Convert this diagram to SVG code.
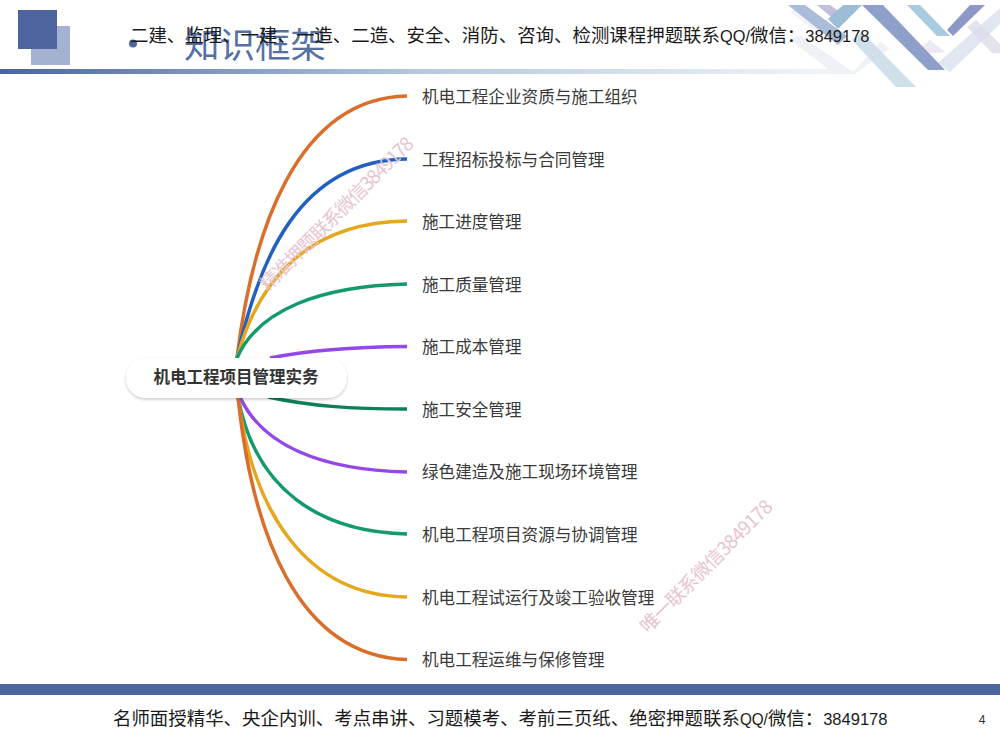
<svg xmlns="http://www.w3.org/2000/svg" width="1000" height="750" viewBox="0 0 1000 750">
<style>
.cn{font-family:"Liberation Sans","Noto Sans CJK SC",sans-serif}
.lab{font-size:16.6px;fill:#3a3a3a}
.c{fill:none;stroke-width:3.5;stroke-linecap:butt}
.wm{font-family:"Noto Sans CJK SC","Liberation Serif",serif;font-size:19px;fill:#e8c4d1}
.top{font-size:18.45px;fill:#1a1a1a;font-family:"Liberation Sans","Noto Sans CJK SC",sans-serif}
.num{font-size:16.5px}
</style>
<defs>
<linearGradient id="hr" x1="0" x2="1" y1="0" y2="0"><stop offset="0" stop-color="#4a659e"/><stop offset=".5" stop-color="#b4c8de"/><stop offset="1" stop-color="#f2f6fa"/></linearGradient>
<filter id="sh" x="-10%" y="-30%" width="120%" height="170%"><feDropShadow dx="0" dy="1.5" stdDeviation="1.5" flood-color="#000" flood-opacity=".22"/></filter>
</defs>
<g id="header">
<rect x="31" y="26" width="39" height="39" fill="#a5b1d0"/>
<rect x="18" y="10" width="39" height="39" fill="#4c659f"/>
<rect x="0" y="69" width="840" height="5" fill="url(#hr)"/>
<polygon points="790,40 800,35 853,72 880,42 890,48 855,74 835,74" fill="#eef2f7"/>
<polygon points="915,52 930,40 945,52 922,54" fill="#ece9f3"/>
<polygon points="938,63 1000,8 1000,24 950,72" fill="#d8e1ee" opacity=".8"/>
<polygon points="967,27 976,20 1000,44 1000,53 992,53" fill="#dcdcea" opacity=".8"/>
<polygon points="790,12 803,5 835,30 822,36" fill="#e9edf4" opacity=".6"/>
<polygon points="852,40 862,32 916,87 896,87" fill="#c8dae8" opacity=".85"/>
<polygon points="788,5 805,5 847,36 838,45" fill="#abbcd8"/>
<polygon points="817,5 830,5 844,15 837,22" fill="#c0c0dc"/>
<polygon points="843,5 862,5 838,29 828,19" fill="#9dbcd8"/>
<polygon points="862,5 883,5 945,70 928,70" fill="#8e9fca"/>
<polygon points="907,5 920,5 950,36 937,36" fill="#a9cbdf"/>
<polygon points="970,5 985,5 953,36 947,30" fill="#8c98c6"/>
<circle cx="133" cy="43.500" r="4" fill="#4c659f"/>
<text x="184" y="58" class="cn" font-size="35.500" fill="#5670a6">知识框架</text>
<text x="130" y="42" class="top">二建、监理、一建、一造、二造、安全、消防、咨询、检测课程押题联系<tspan textLength="30" lengthAdjust="spacingAndGlyphs" class="num">QQ/</tspan>微信：<tspan class="num">3849178</tspan></text>
</g>
<g id="connectors">
<path class="c" stroke="#d96f2b" d="M237 358C252 235 295 98 407 96"/>
<path class="c" stroke="#2160bd" d="M237 358C258 262 298 160 407 159"/>
<path class="c" stroke="#e5a71e" d="M237 358C258 280 308 222 407 221"/>
<path class="c" stroke="#129a6c" d="M237 358C258 310 320 286 407 284"/>
<path class="c" stroke="#9448e8" d="M270 358C310 350 350 347 407 346.500"/>
<path class="c" stroke="#0d7f5a" d="M268 397C310 406 350 409 407 409"/>
<path class="c" stroke="#9448e8" d="M240 397C262 445 320 470 407 472"/>
<path class="c" stroke="#129a6c" d="M238 397C255 490 320 532 407 534"/>
<path class="c" stroke="#e5a71e" d="M238 397C252 510 305 596 407 597"/>
<path class="c" stroke="#d96f2b" d="M238 397C252 530 296 656 407 659.500"/>
</g>
<g id="root">
<rect x="126" y="358" width="221" height="40" rx="20" fill="#fff" filter="url(#sh)"/>
<text x="236" y="383" text-anchor="middle" class="cn" font-size="16.500" font-weight="700" fill="#333">机电工程项目管理实务</text>
</g>
<g id="n1"><text x="422" y="102.500" class="cn lab">机电工程企业资质与施工组织</text></g>
<g id="n2"><text x="422" y="165.500" class="cn lab">工程招标投标与合同管理</text></g>
<g id="n3"><text x="422" y="228" class="cn lab">施工进度管理</text></g>
<g id="n4"><text x="422" y="291" class="cn lab">施工质量管理</text></g>
<g id="n5"><text x="422" y="353" class="cn lab">施工成本管理</text></g>
<g id="n6"><text x="422" y="415.500" class="cn lab">施工安全管理</text></g>
<g id="n7"><text x="422" y="478" class="cn lab">绿色建造及施工现场环境管理</text></g>
<g id="n8"><text x="422" y="541" class="cn lab">机电工程项目资源与协调管理</text></g>
<g id="n9"><text x="422" y="604" class="cn lab">机电工程试运行及竣工验收管理</text></g>
<g id="n10"><text x="422" y="666" class="cn lab">机电工程运维与保修管理</text></g>
<text class="wm" transform="translate(268 292) rotate(-45)" textLength="208">精准押题联系微信3849178</text>
<text class="wm" transform="translate(648 634) rotate(-45)" textLength="178">唯一联系微信3849178</text>
<g id="footer">
<rect x="0" y="684" width="1000" height="11" fill="#4c659f"/>
<text x="113" y="725" class="top">名师面授精华、央企内训、考点串讲、习题模考、考前三页纸、绝密押题联系<tspan textLength="28" lengthAdjust="spacingAndGlyphs" class="num">QQ/</tspan>微信：<tspan class="num">3849178</tspan></text>
<text x="982" y="724" text-anchor="middle" class="cn" font-size="12" fill="#333">4</text>
</g>
</svg>
